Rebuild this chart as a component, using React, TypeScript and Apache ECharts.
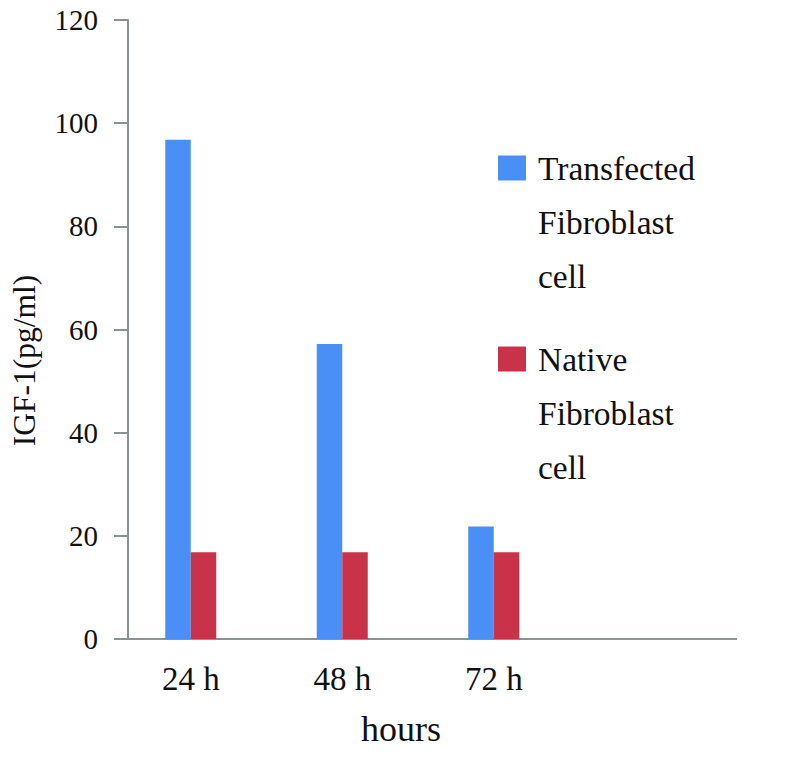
import React, { useEffect, useRef } from "react";
import * as echarts from "echarts";

const categories = ["24 h", "48 h", "72 h", ""];
const transfected = [96.8, 57.2, 21.8, null];
const native = [16.8, 16.8, 16.8, null];
const seriesNames = ["Transfected Fibroblast cell", "Native Fibroblast cell"];
const yTicks = { min: 0, max: 120, interval: 20 };

const FONT = "Liberation Serif";
const AXIS_COLOR = "#889394";
const BLUE = "#4A8FF5";
const RED = "#C8334A";

export default function App() {
  const ref = useRef<HTMLDivElement>(null);
  useEffect(() => {
    if (!ref.current) return;
    const chart = echarts.init(ref.current, undefined, { renderer: "svg" });
    const legendText = {
      fontFamily: FONT,
      fontSize: 33.5,
      color: "#111",
      lineHeight: 54,
      padding: [0, 0, 0, 7],
    };
    const mkLegend = (name: string, top: number) => ({
      show: true,
      data: [name],
      left: 498,
      top,
      padding: 0,
      orient: "vertical",
      icon: "rect",
      itemWidth: 28,
      itemHeight: 25,
      selectedMode: false,
      textStyle: legendText,
      formatter: (n: string) => "\n\n" + n.split(" ").join("\n"),
    });
    chart.setOption({
      animation: false,
      textStyle: { fontFamily: FONT },
      grid: { left: 111, right: 89, top: 20, bottom: 765 - 639 },
      legend: [mkLegend(seriesNames[0], 33), mkLegend(seriesNames[1], 224)],
      xAxis: {
        type: "category",
        data: categories,
        name: "hours",
        nameLocation: "middle",
        nameGap: 72,
        nameTextStyle: { fontFamily: FONT, fontSize: 36, color: "#111", padding: [0, 34, 0, 0] },
        axisLine: { show: true, lineStyle: { color: AXIS_COLOR, width: 2 } },
        axisTick: { show: false },
        axisLabel: { fontFamily: FONT, fontSize: 33, color: "#111", margin: 23 },
      },
      yAxis: {
        type: "value",
        min: yTicks.min,
        max: yTicks.max,
        interval: yTicks.interval,
        offset: -13,
        name: "IGF-1(pg/ml)",
        nameLocation: "middle",
        nameGap: 88,
        nameTextStyle: { fontFamily: FONT, fontSize: 31.5, color: "#111", padding: [0, 62, 0, 0] },
        axisLine: { show: true, lineStyle: { color: AXIS_COLOR, width: 2 } },
        axisTick: { show: true, length: 14, lineStyle: { color: AXIS_COLOR, width: 2 } },
        axisLabel: { fontFamily: FONT, fontSize: 29, color: "#111", margin: 30 },
        splitLine: { show: false },
      },
      graphic: [
        {
          type: "line",
          shape: { x1: 720, y1: 639, x2: 737, y2: 639 },
          style: { stroke: AXIS_COLOR, lineWidth: 2 },
          silent: true,
        },
      ],
      series: [
        {
          name: seriesNames[0],
          type: "bar",
          data: transfected,
          barWidth: 25.5,
          barGap: "0%",
          itemStyle: { color: BLUE },
        },
        {
          name: seriesNames[1],
          type: "bar",
          data: native,
          barWidth: 25.5,
          barGap: "0%",
          itemStyle: { color: RED },
        },
      ],
    });
    return () => chart.dispose();
  }, []);
  return (
    <div
      ref={ref}
      style={{ position: "fixed", left: 0, top: 0, width: 810, height: 765, background: "#fff" }}
    />
  );
}
